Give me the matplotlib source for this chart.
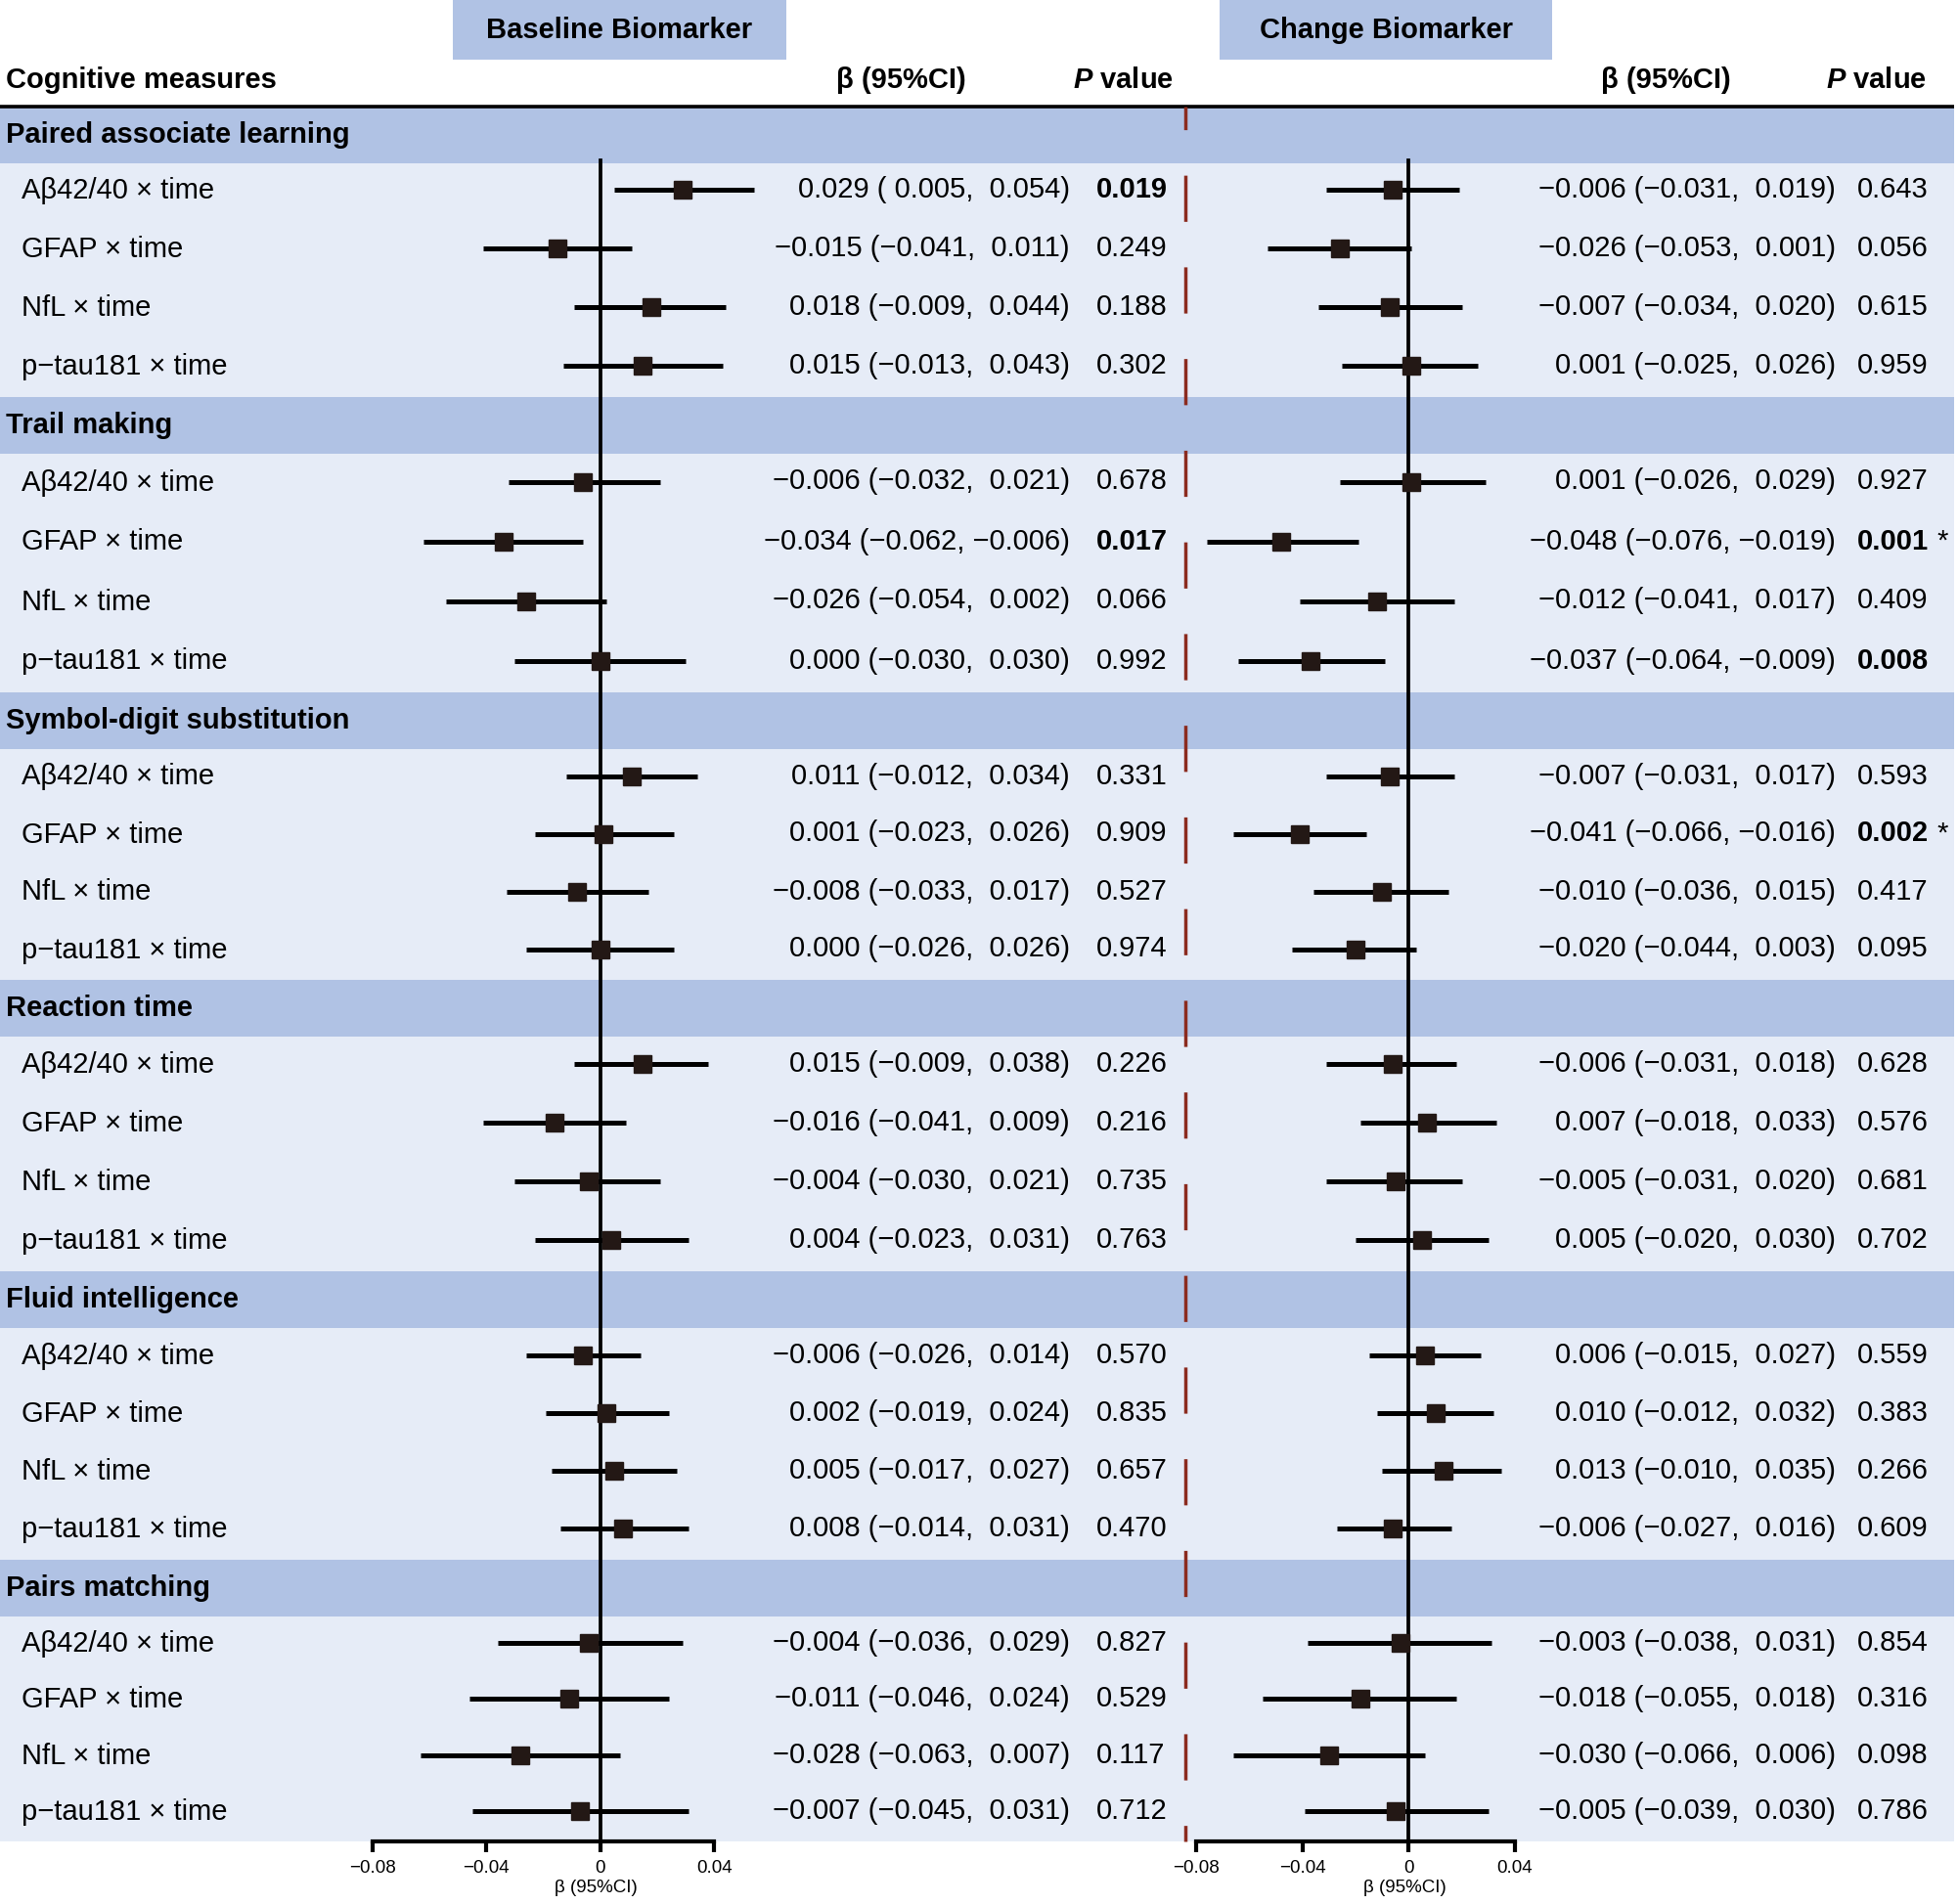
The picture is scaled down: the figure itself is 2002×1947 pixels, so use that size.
import matplotlib
matplotlib.use("Agg")
import matplotlib.pyplot as plt
import numpy as np

plt.rcParams['font.family'] = ['Liberation Sans', 'DejaVu Sans']
plt.rcParams['mathtext.fontset'] = 'custom'
plt.rcParams['mathtext.it'] = 'Liberation Sans:italic:bold'
plt.rcParams['mathtext.rm'] = 'Liberation Sans:bold'
plt.rcParams['lines.scale_dashes'] = False

# ---- data ----
groups = ["Paired associate learning", "Trail making", "Symbol-digit substitution",
          "Reaction time", "Fluid intelligence", "Pairs matching"]
biomarkers = ["Aβ42/40 × time", "GFAP × time", "NfL × time", "p−tau181 × time"]

base_beta = [0.029, -0.015, 0.018, 0.015,
             -0.006, -0.034, -0.026, 0.000,
             0.011, 0.001, -0.008, 0.000,
             0.015, -0.016, -0.004, 0.004,
             -0.006, 0.002, 0.005, 0.008,
             -0.004, -0.011, -0.028, -0.007]
base_lo = [0.005, -0.041, -0.009, -0.013,
           -0.032, -0.062, -0.054, -0.030,
           -0.012, -0.023, -0.033, -0.026,
           -0.009, -0.041, -0.030, -0.023,
           -0.026, -0.019, -0.017, -0.014,
           -0.036, -0.046, -0.063, -0.045]
base_hi = [0.054, 0.011, 0.044, 0.043,
           0.021, -0.006, 0.002, 0.030,
           0.034, 0.026, 0.017, 0.026,
           0.038, 0.009, 0.021, 0.031,
           0.014, 0.024, 0.027, 0.031,
           0.029, 0.024, 0.007, 0.031]
base_p = [0.019, 0.249, 0.188, 0.302,
          0.678, 0.017, 0.066, 0.992,
          0.331, 0.909, 0.527, 0.974,
          0.226, 0.216, 0.735, 0.763,
          0.570, 0.835, 0.657, 0.470,
          0.827, 0.529, 0.117, 0.712]

chg_beta = [-0.006, -0.026, -0.007, 0.001,
            0.001, -0.048, -0.012, -0.037,
            -0.007, -0.041, -0.010, -0.020,
            -0.006, 0.007, -0.005, 0.005,
            0.006, 0.010, 0.013, -0.006,
            -0.003, -0.018, -0.030, -0.005]
chg_lo = [-0.031, -0.053, -0.034, -0.025,
          -0.026, -0.076, -0.041, -0.064,
          -0.031, -0.066, -0.036, -0.044,
          -0.031, -0.018, -0.031, -0.020,
          -0.015, -0.012, -0.010, -0.027,
          -0.038, -0.055, -0.066, -0.039]
chg_hi = [0.019, 0.001, 0.020, 0.026,
          0.029, -0.019, 0.017, -0.009,
          0.017, -0.016, 0.015, 0.003,
          0.018, 0.033, 0.020, 0.030,
          0.027, 0.032, 0.035, 0.016,
          0.031, 0.018, 0.006, 0.030]
chg_p = [0.643, 0.056, 0.615, 0.959,
         0.927, 0.001, 0.409, 0.008,
         0.593, 0.002, 0.417, 0.095,
         0.628, 0.576, 0.681, 0.702,
         0.559, 0.383, 0.266, 0.609,
         0.854, 0.316, 0.098, 0.786]

xticks = [-0.08, -0.04, 0, 0.04]
xtick_labels = ["−0.08", "−0.04", "0", "0.04"]

# ---- layout (pixels of the 2002 x 1947 canvas) ----
W, H = 2002, 1947
group_edges = [108.5, 406, 708, 1002, 1300, 1595, 1883]
tab_top, tab_bot = group_edges[0], group_edges[-1]
band_h = 58
band_col = '#B0C2E4'
light_col = '#E6ECF7'
mark_col = '#231815'
fs = 21
right_edge = 1998

fig = plt.figure(figsize=(W / 100, H / 100), dpi=100)
bg = fig.add_axes([0, 0, 1, 1])
bg.set_xlim(0, W)
bg.set_ylim(H, 0)
bg.axis('off')


def fmt(v):
    return f"{v:6.3f}".replace('-', '−')


# title boxes
for x0, x1, label in [(463, 804, "Baseline Biomarker"), (1247, 1587, "Change Biomarker")]:
    bg.add_patch(plt.Rectangle((x0, 0), x1 - x0, 61, color=band_col, lw=0))
    bg.text((x0 + x1) / 2, 31, label, ha='center', va='center', fontsize=fs, fontweight='bold')

# column headers
hy = 82
bg.text(6, hy, "Cognitive measures", ha='left', va='center', fontsize=fs, fontweight='bold')
bg.text(921, hy, "β (95%CI)", ha='center', va='center', fontsize=fs, fontweight='bold')
bg.text(1703, hy, "β (95%CI)", ha='center', va='center', fontsize=fs, fontweight='bold')
bg.text(1200, hy, "$P$ value", ha='right', va='center', fontsize=fs, fontweight='bold')
bg.text(1970, hy, "$P$ value", ha='right', va='center', fontsize=fs, fontweight='bold')
bg.plot([0, right_edge], [tab_top, tab_top], color='black', lw=2.6, solid_capstyle='butt')

# rows, labels and text columns
item_y = []
nb = len(biomarkers)
for g, gname in enumerate(groups):
    g0, g1 = group_edges[g], group_edges[g + 1]
    rh = (g1 - g0 - band_h) / nb
    bg.axhspan(g0, g0 + band_h, xmin=0, xmax=right_edge / W, color=band_col, lw=0, zorder=0)
    bg.axhspan(g0 + band_h, g1, xmin=0, xmax=right_edge / W, color=light_col, lw=0, zorder=0)
    bg.text(6, g0 + band_h / 2, gname, ha='left', va='center', fontsize=fs, fontweight='bold')
    for b, bname in enumerate(biomarkers):
        yc = g0 + band_h + (b + 0.5) * rh - 2
        bg.text(22, yc + 1, bname, ha='left', va='center', fontsize=fs)
        item_y.append(yc)

for beta, lo, hi, p, x_ci, x_p in [(base_beta, base_lo, base_hi, base_p, 1094, 1121),
                                   (chg_beta, chg_lo, chg_hi, chg_p, 1877, 1899)]:
    for i, yc in enumerate(item_y):
        bg.text(x_ci, yc, f"{fmt(beta[i]).strip()} ({fmt(lo[i])}, {fmt(hi[i])})",
                ha='right', va='center', fontsize=fs)
        ptxt = f"{p[i]:.3f}"
        if p[i] < 0.05:
            bg.text(x_p, yc, ptxt, ha='left', va='center', fontsize=fs, fontweight='bold')
            if p[i] < 0.05 / 24:
                bg.text(x_p + 81, yc, "*", ha='left', va='center', fontsize=fs)
        else:
            bg.text(x_p, yc, ptxt, ha='left', va='center', fontsize=fs)

# red dashed separator
bg.plot([1212, 1212], [tab_top, tab_bot], color='#8B2B1F', lw=2.5,
        linestyle=(17, (34, 33.5)), zorder=2)

# forest panels
rows_arr = np.array(item_y)
for beta, lo, hi, x_lo, x_hi in [(base_beta, base_lo, base_hi, 380.5, 730.3),
                                 (chg_beta, chg_lo, chg_hi, 1223, 1549)]:
    ax = fig.add_axes([x_lo / W, 1 - tab_bot / H, (x_hi - x_lo) / W, (tab_bot - tab_top) / H])
    ax.patch.set_alpha(0)
    ax.set_xlim(-0.08, 0.04)
    ax.set_ylim(tab_bot, tab_top)
    first_item_top = tab_top + band_h
    ax.axvline(0, ymin=0, ymax=(tab_bot - first_item_top + 3) / (tab_bot - tab_top),
               color='black', lw=2.7, zorder=1)
    ax.hlines(rows_arr, lo, hi, color='black', lw=3.6, zorder=2, clip_on=False)
    ax.plot(beta, rows_arr, 's', color=mark_col, ms=13, zorder=3, clip_on=False)
    for s in ['top', 'right', 'left']:
        ax.spines[s].set_visible(False)
    ax.spines['bottom'].set_linewidth(3)
    ax.set_yticks([])
    ax.set_xticks(xticks)
    ax.set_xticklabels(xtick_labels)
    ax.tick_params(axis='x', length=8, width=3, labelsize=13.5, pad=6)
    ax.set_xlabel("β (95%CI)", fontsize=13.5, labelpad=4)
    ax.xaxis.set_label_coords(0.655, -0.022)

fig.savefig("out.png", dpi=100)
